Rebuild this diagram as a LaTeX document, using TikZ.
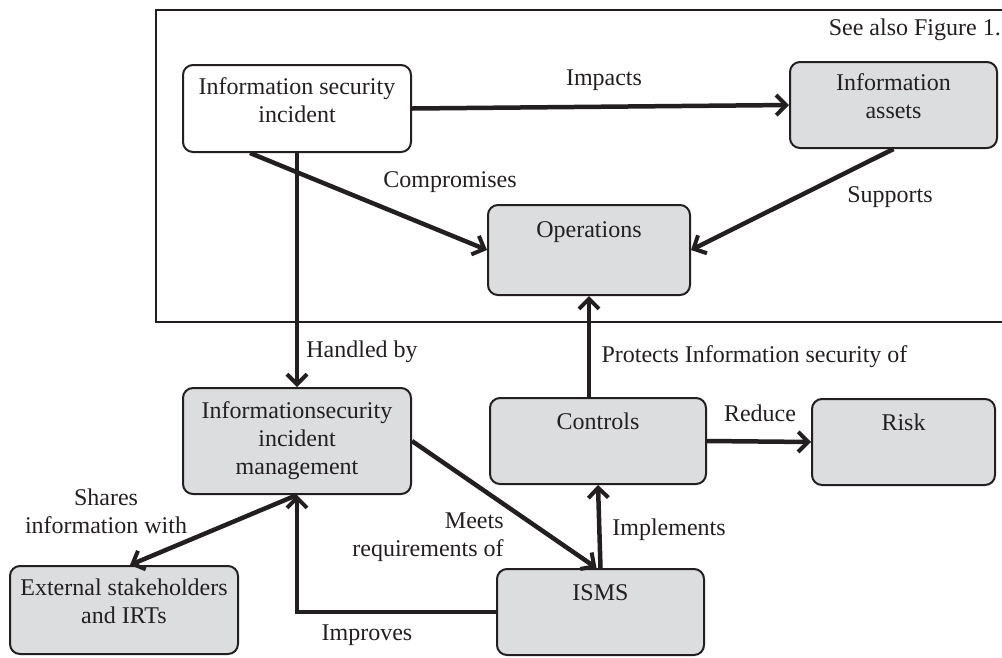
\documentclass[tikz,border=0pt]{standalone}
\usepackage{fontspec}
\setmainfont{Liberation Serif}
\usetikzlibrary{arrows.meta}

\definecolor{boxgray}{HTML}{DCDDDF}
\definecolor{ink}{HTML}{231F20}

\tikzset{%
  every box/.style={
    draw=ink,
    line width=2pt,
    rounded corners=10pt,
    fill=boxgray,
    inner sep=0pt,
    align=center
  },
  box white/.style={
    fill=white
  },
  box top/.style 2 args={
    text height=#1,
    text depth=#2
  },
  link/.style={
    draw=ink,
    line width=4.5pt,
    -{Straight Barb[length=10pt,width=20pt,line width=4pt]}
  },
}

\begin{document}
\begin{tikzpicture}[x=1pt, y=-1pt,
  every node/.append style={font=\fontsize{24}{28}\selectfont, text=ink}]

\clip (0,0) rectangle (1002,657);

% frame of the upper part
\draw [draw=ink, line width=2pt] (1010,10) -- (156,10) -- (156,322) -- (1010,322);

\node [anchor=east, inner sep=0pt] (seealso) at (1001,30) {See also Figure 1.};

% boxes
\node [every box/.try, box white, box top={57pt}{30pt}, minimum width=228pt] (incident) at (297,108.5) {Information security\\incident};
\node [every box/.try, box top={56pt}{30pt}, minimum width=207pt] (assets) at (893.5,105) {Information\\assets};
\node [every box/.try, box top={32pt}{58pt}, minimum width=202pt] (operations) at (589,250) {Operations};
\node [every box/.try, minimum width=228pt, minimum height=106pt] (management) at (297,441) {Informationsecurity\\incident\\management};
\node [every box/.try, box top={31pt}{55pt}, minimum width=216pt] (controls) at (598,441) {Controls};
\node [every box/.try, box top={31pt}{55pt}, minimum width=183pt] (risk) at (903.5,442) {Risk};
\node [every box/.try, box top={31pt}{55pt}, minimum width=207pt] (isms) at (600.5,612) {ISMS};
\node [every box/.try, box top={57pt}{31pt}, minimum width=228pt] (external) at (124,610) {External stakeholders\\and IRTs};

% connectors
\draw [link] (incident.east) -- (assets.west);
\draw [link] ([xshift=-47pt]incident.south) -- (operations.west);
\draw [link] (assets.south) -- (operations.east);
\draw [link] (incident.south) -- (management.north);
\draw [link] (controls.north -| operations.south) -- (operations.south);
\draw [link] (controls.east) -- (risk.west);
\draw [link] (isms.north) -- (controls.south);
\draw [link] (management.east) -- ([xshift=-4pt]isms.north);
\draw [link] (management.south) -- ([xshift=6pt]external.north);
\draw [link] (isms.west) -| (management.south);

% connector labels
\foreach \n/\x/\y/\t in {impacts/604/80/Impacts, compromises/450/182/Compromises,
    supports/890/197/Supports, handled/362/352/Handled by, reduce/760/413/Reduce,
    implements/669/530/Implements, improves/367/635/Improves}
  \node (\n) at (\x,\y) {\t};

\node [anchor=west] (protects) at (598,357) {Protects Information security of};
\node [align=right] (meets) at (428,537) {Meets\\requirements of};
\node [align=center] (shares) at (106,511) {Shares\\information with};

\end{tikzpicture}
\end{document}
